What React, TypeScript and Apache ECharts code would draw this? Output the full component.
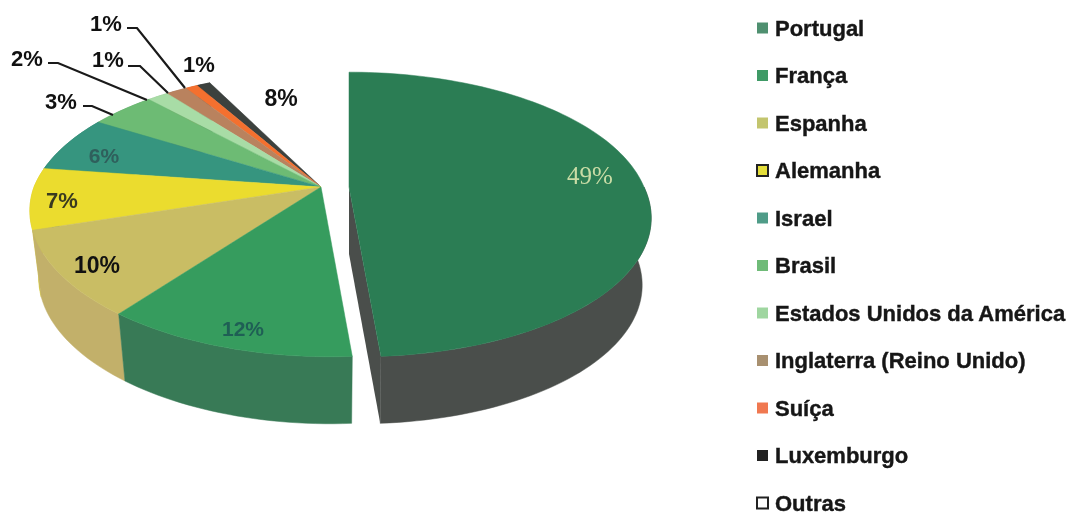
import React, { useEffect, useRef } from "react";
import * as echarts from "echarts";

const countries = ["Portugal", "França", "Espanha", "Alemanha", "Israel", "Brasil", "Estados Unidos da América", "Inglaterra (Reino Unido)", "Suíça", "Luxemburgo", "Outras"];
// Printed percentages
const percentLabels = [49, 12, 10, 7, 6, 3, 2, 1, 1, 1, 8];
// Slice sizes as they appear in the picture (percent of the full turn)
const shares = [49, 11.6, 9.6, 7, 6.5, 4.3, 1.4, 1.4, 0.8, 0.9, 7.5];
const topColors = ["#2b7d54", "#369c5e", "#c9bd64", "#ebdc2e", "#36957f", "#6dbb74", "#a8dca6", "#b9825e", "#f4702f", "#3c413e", "#ffffff"];
const sideColors = ["#4a4e4b", "#387a56", "#c2b06a", "#d2c52a", "#2e7f6c", "#5ca362", "#8ebd8c", "#9a6c4e", "#d05f28", "#2f3331", "#ffffff"];
const legendSwatches = ["#4f9070", "#3f9a66", "#c3c56e", "#e4de3a", "#4f9c88", "#6fbb78", "#9fd6a0", "#a89070", "#f07850", "#222222", "#ffffff"];
const legendBorders = ["", "", "", "#222222", "", "", "", "", "", "", "#222222"];

const labelPos = [[590, 175], [243, 328], [97, 265], [62, 200], [104, 155], [61, 101], [27, 58], [108, 59], [199, 64], [106, 23], [281, 98]];
const labelColors = ["#c9dca6", "#1f5f55", "#111111", "#3a3a20", "#2f5f5c", "#111111", "#111111", "#111111", "#111111", "#111111", "#111111"];
const labelSizes = [25, 21, 23, 22, 21, 22, 22, 22, 22, 22, 23];
const leaders: Record<number, number[][]> = {
  5: [[83, 106], [92, 106], [113, 115]],
  6: [[48, 63], [58, 63], [147, 100]],
  7: [[128, 66], [140, 66], [168, 93]],
  9: [[127, 28], [137, 28], [185, 88]],
};

const apexY = 187;
const PERSPECTIVE = 0.193;
const DEPTH_B = 137;
const SKEW = 0.053;
const SIDE = 67;
const LOWER_SHRINK = 0.97;
const MAIN = { ax: 321, A: 287 };
const EXPLODED = { ax: 349, A: 295 };

function project(geo: { ax: number; A: number }, deg: number, dy = 0, shrink = 1) {
  const t = (deg * Math.PI) / 180;
  const w = 1 + PERSPECTIVE * Math.cos(t);
  const Y = (-DEPTH_B * Math.cos(t)) / w;
  return [geo.ax + (geo.A * shrink * Math.sin(t)) / w + SKEW * Math.max(Y, 0), apexY + Y + dy];
}

function arc(geo: { ax: number; A: number }, a0: number, a1: number, dy = 0, shrink = 1) {
  const n = Math.max(2, Math.ceil(Math.abs(a1 - a0) / 1.5));
  const pts: number[][] = [];
  for (let i = 0; i <= n; i++) pts.push(project(geo, a0 + ((a1 - a0) * i) / n, dy, shrink));
  return pts;
}

const total = shares.reduce((a, b) => a + b, 0);
const starts = shares.map((_, i) => shares.slice(0, i).reduce((a, b) => a + b, 0));

function sliceSeries(i: number) {
  return {
    type: "custom",
    name: countries[i],
    coordinateSystem: "none",
    silent: true,
    z: i === 0 ? 2 : 13 - i,
    itemStyle: { color: topColors[i] },
    data: [[shares[i]]],
    renderItem: (_p: any, api: any) => {
      const v = api.value(0) as number;
      const a0 = (starts[i] / total) * 360;
      const a1 = ((starts[i] + v) / total) * 360;
      const geo = i === 0 ? EXPLODED : MAIN;
      const rim = arc(geo, a0, a1);
      const apex = [geo.ax, apexY];
      const children: any[] = [];
      if (topColors[i] !== "#ffffff") {
        const sideStart = i === 0 ? 90 : a0;
        const upper = arc(geo, sideStart, a1);
        const lower = arc(geo, sideStart, a1, SIDE, LOWER_SHRINK).reverse();
        children.push({ type: "polygon", shape: { points: [...upper, ...lower] }, style: { fill: sideColors[i], stroke: sideColors[i], lineWidth: 0.5 } });
        if (i === 0) {
          const end = project(geo, a1);
          const endLow = project(geo, a1, SIDE, LOWER_SHRINK);
          children.push({
            type: "polygon",
            shape: { points: [apex, end, endLow, [apex[0], apex[1] + SIDE]] },
            style: { fill: sideColors[i] },
          });
        }
        children.push({ type: "polygon", shape: { points: [apex, ...rim] }, style: { fill: topColors[i], stroke: topColors[i], lineWidth: 0.5 } });
      }
      return { type: "group", children };
    },
  };
}

const labelSeries = {
  type: "custom",
  name: "labels",
  coordinateSystem: "none",
  silent: true,
  z: 40,
  data: percentLabels.map((v) => [v]),
  renderItem: (p: any, api: any) => {
    const i = p.dataIndex;
    const children: any[] = [
      {
        type: "text",
        style: {
          text: `${api.value(0)}%`,
          x: labelPos[i][0],
          y: labelPos[i][1],
          textAlign: "center",
          textVerticalAlign: "middle",
          font: i === 0 ? `${labelSizes[i]}px "Liberation Serif"` : `bold ${labelSizes[i]}px "Liberation Sans"`,
          fill: labelColors[i],
        },
      },
    ];
    if (leaders[i]) {
      children.push({ type: "polyline", shape: { points: leaders[i] }, style: { stroke: "#1a1a1a", lineWidth: 2.2, fill: "none" } });
    }
    return { type: "group", children };
  },
};

export default function App() {
  const ref = useRef<HTMLDivElement>(null);
  useEffect(() => {
    document.body.style.margin = "0";
    const chart = echarts.init(ref.current!, undefined, { renderer: "svg" });
    chart.setOption({
      animation: false,
      backgroundColor: "#ffffff",
      legend: {
        orient: "vertical",
        left: 756,
        top: 16,
        padding: 0,
        icon: "rect",
        itemWidth: 11,
        itemHeight: 11,
        itemGap: 23.5,
        selectedMode: false,
        textStyle: { fontFamily: "Liberation Sans", fontWeight: "bold", fontSize: 22, color: "#161616", lineHeight: 24, padding: [0, 0, 0, 2], textBorderColor: "#161616", textBorderWidth: 0.4 },
        data: countries.map((name, i) => ({
          name,
          itemStyle: {
            color: legendSwatches[i],
            borderColor: legendBorders[i] || legendSwatches[i],
            borderWidth: legendBorders[i] ? 2 : 0,
          },
        })),
      },
      series: [...countries.map((_, i) => sliceSeries(i)), labelSeries],
    });
    return () => chart.dispose();
  }, []);
  return <div ref={ref} style={{ position: "fixed", left: 0, top: 0, width: 1073, height: 528, filter: "blur(0.5px)" }} />;
}
